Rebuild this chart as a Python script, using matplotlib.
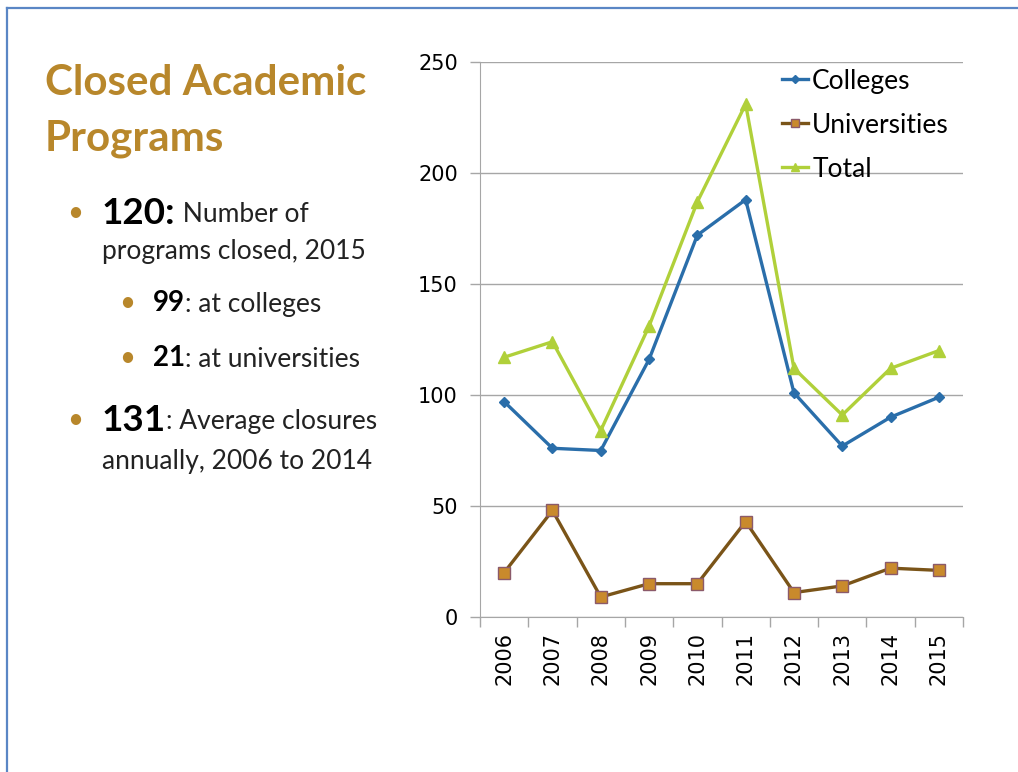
import matplotlib
matplotlib.use("Agg")
import matplotlib.pyplot as plt
from matplotlib.lines import Line2D

# data
years = ['2006', '2007', '2008', '2009', '2010', '2011', '2012', '2013', '2014', '2015']
colleges = [97, 76, 75, 116, 172, 188, 101, 77, 90, 99]
universities = [20, 48, 9, 15, 15, 43, 11, 14, 22, 21]
total = [117, 124, 84, 131, 187, 231, 112, 91, 112, 120]

title_lines = ['Closed Academic', 'Programs']
bullets = [
    # (indent level, bold part, rest, y pixel, big)
    (0, '120:', ' Number of', 213, True),
    (None, '', 'programs closed, 2015', 250, False),
    (1, '99', ': at colleges', 303, False),
    (1, '21', ': at universities', 358, False),
    (0, '131', ': Average closures', 420, True),
    (None, '', 'annually, 2006 to 2014', 460, False),
]

GOLD = '#B8872B'
BLUE = '#2A6EAA'
BROWN = '#7A5418'
ORANGE = '#C98A2C'
GREEN = '#B0D03A'
GRID = '#A6A6A6'

W, H = 1018, 772
fig = plt.figure(figsize=(W / 100, H / 100), dpi=100)
plt.rcParams['font.family'] = ['Lato', 'DejaVu Sans']

# slide border
fig.add_artist(Line2D([7 / W, 7 / W], [0, 1 - 8 / H], color='#5A86C5', lw=1.6, transform=fig.transFigure))
fig.add_artist(Line2D([7 / W, 1], [1 - 8 / H, 1 - 8 / H], color='#5A86C5', lw=1.6, transform=fig.transFigure))

# title
for i, line in enumerate(title_lines):
    fig.text(45 / W, 1 - (95 + i * 56) / H, line, fontsize=30.3, fontweight='bold',
             color=GOLD, va='baseline', ha='left')

# bullet text
fig.canvas.draw()
renderer = fig.canvas.get_renderer()
for level, bold, rest, ypix, big in bullets:
    x0 = 102 if level in (0, None) else 153
    y = 1 - ypix / H
    if level is not None:
        bx = 75 if level == 0 else 127
        fig.text(bx / W, y, '\u2022', fontsize=20, color=GOLD, ha='center', va='center')
    x = x0
    if bold:
        t = fig.text(x / W, y, bold, fontsize=26.5 if big else 20, fontweight='bold',
                     color='black', ha='left', va='center')
        bb = t.get_window_extent(renderer)
        x = bb.x1
    fig.text(x / W, y - 0.002, rest, fontsize=19, color='#222222', ha='left', va='center')

# chart
ax = fig.add_axes([480 / W, 1 - 617 / H, (963 - 480) / W, (617 - 62) / H])
xs = range(len(years))
ax.plot(xs, colleges, color=BLUE, lw=2.4, marker='D', ms=5, label='Colleges')
ax.plot(xs, universities, color=BROWN, lw=2.4, marker='s', ms=8,
        mfc=ORANGE, mec='#8B5A6A', mew=1, label='Universities')
ax.plot(xs, total, color=GREEN, lw=2.4, marker='^', ms=8, label='Total')

ax.set_xlim(-0.5, len(years) - 0.5)
ax.set_ylim(0, 250)
ax.set_yticks([0, 50, 100, 150, 200, 250])
ax.yaxis.grid(True, color=GRID, lw=1)
ax.set_axisbelow(True)

ax.set_xticks(list(xs))
ax.set_xticklabels(years, rotation=90)
ax.set_xticks([i - 0.5 for i in range(len(years) + 1)], minor=True)
ax.tick_params(axis='x', which='major', length=0, pad=11, labelsize=15,
               labelfontfamily='DejaVu Sans')
ax.tick_params(axis='x', which='minor', length=7, color=GRID, width=1)
ax.tick_params(axis='y', length=7, color=GRID, width=1, pad=9, labelsize=15,
               labelfontfamily='DejaVu Sans')

for s in ['top', 'right']:
    ax.spines[s].set_visible(False)
ax.spines['left'].set_color(GRID)
ax.spines['bottom'].set_color(GRID)

ax.legend(loc='upper left', bbox_to_anchor=(0.625, 0.988), frameon=False,
          fontsize=19, handlelength=1.0, handletextpad=0.15, labelspacing=0.72,
          borderpad=0, borderaxespad=0, markerscale=0.75)

fig.savefig('out.png', dpi=100)
